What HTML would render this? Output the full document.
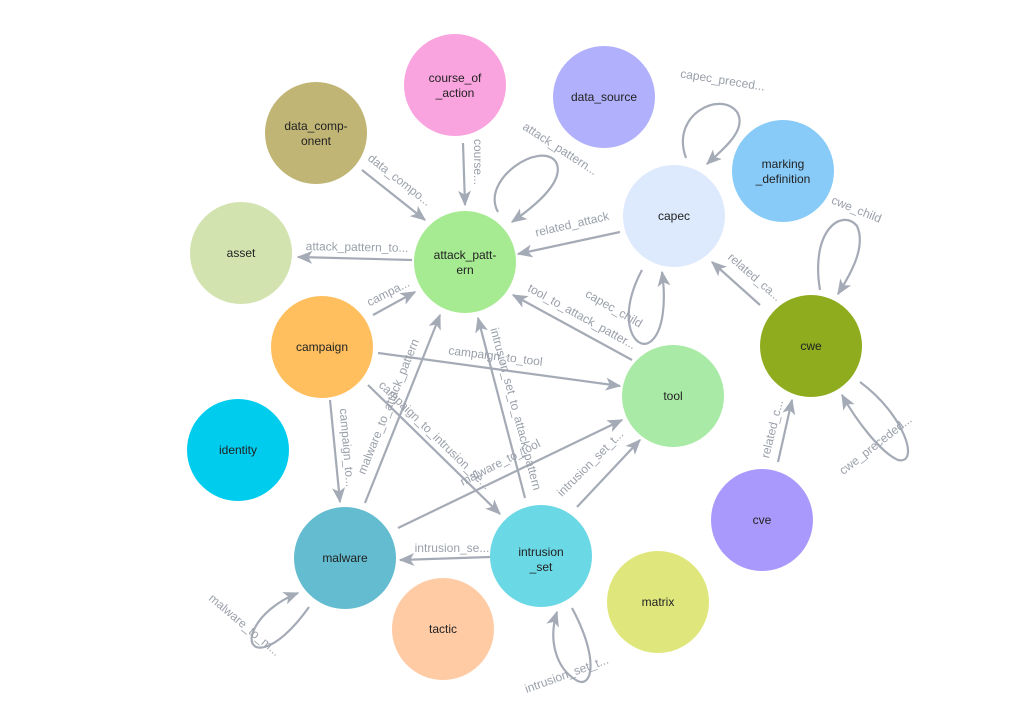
<!DOCTYPE html>
<html><head><meta charset="utf-8"><style>
html,body{margin:0;padding:0;background:#fff;}
svg{display:block;}
.n{font-family:"Liberation Sans",sans-serif;font-size:12px;fill:#222;text-anchor:middle;}
.l{font-family:"Liberation Sans",sans-serif;font-size:12px;fill:#9aa0aa;text-anchor:middle;}
.e{stroke:#a5abb6;stroke-width:2.2;fill:none;marker-end:url(#a);}
</style></head><body>
<svg width="1024" height="722" viewBox="0 0 1024 722" xmlns="http://www.w3.org/2000/svg">
<defs>
<marker id="a" viewBox="0 0 12 10" refX="11" refY="5" markerWidth="16" markerHeight="13" orient="auto" markerUnits="userSpaceOnUse"><path d="M0,0 L12,5 L0,10 L3,5 Z" fill="#a5abb6"/></marker></defs>

<!-- edges -->
<path class="e" d="M362,170 L425,220"/>
<path class="e" d="M463,143 L465,205"/>
<path class="e" d="M498,212 C480,180 540,140 556,162 C566,182 532,208 512,222"/>
<path class="e" d="M620,232 L518,254"/>
<path class="e" d="M412,260 L298,257"/>
<path class="e" d="M373,315 L415,292"/>
<path class="e" d="M632,360 L513,295"/>
<path class="e" d="M686,158 C670,115 720,90 737,112 C748,130 722,150 707,164"/>
<path class="e" d="M642,270 C615,320 635,352 650,342 C664,332 666,300 662,272"/>
<path class="e" d="M760,305 L712,262"/>
<path class="e" d="M820,290 C810,230 842,208 857,226 C866,246 852,272 838,294"/>
<path class="e" d="M860,382 C905,415 920,465 898,460 C880,452 856,420 842,395"/>
<path class="e" d="M778,462 L792,400"/>
<path class="e" d="M378,353 L620,386"/>
<path class="e" d="M330,400 L340,502"/>
<path class="e" d="M368,385 L500,514"/>
<path class="e" d="M365,503 L440,315"/>
<path class="e" d="M525,498 L478,318"/>
<path class="e" d="M398,528 L622,420"/>
<path class="e" d="M577,507 L640,440"/>
<path class="e" d="M490,557 L400,560"/>
<path class="e" d="M309,607 C275,655 248,655 252,635 C258,615 280,600 298,593"/>
<path class="e" d="M572,608 C600,660 592,690 576,680 C556,668 548,640 557,612"/>

<!-- edge labels -->
<text class="l" transform="translate(397,183) rotate(38)">data_compo...</text>
<text class="l" transform="translate(474,162) rotate(90)">course...</text>
<text class="l" transform="translate(558,152) rotate(33)">attack_pattern...</text>
<text class="l" transform="translate(573,228) rotate(-13)">related_attack</text>
<text class="l" transform="translate(357,251) rotate(1)">attack_pattern_to...</text>
<text class="l" transform="translate(390,296) rotate(-27)">campa...</text>
<text class="l" transform="translate(580,320) rotate(29)">tool_to_attack_patter...</text>
<text class="l" transform="translate(612,312) rotate(30)">capec_child</text>
<text class="l" transform="translate(722,84) rotate(9)">capec_preced...</text>
<text class="l" transform="translate(752,280) rotate(41)">related_ca...</text>
<text class="l" transform="translate(855,213) rotate(22)">cwe_child</text>
<text class="l" transform="translate(878,448) rotate(-38)">cwe_preceded...</text>
<text class="l" transform="translate(776,430) rotate(-76)">related_c...</text>
<text class="l" transform="translate(495,360) rotate(7)">campaign_to_tool</text>
<text class="l" transform="translate(343,448) rotate(85)">campaign_to...</text>
<text class="l" transform="translate(432,438) rotate(44)">campaign_to_intrusion_se...</text>
<text class="l" transform="translate(392,408) rotate(-68)">malware_to_attack_pattern</text>
<text class="l" transform="translate(512,410) rotate(75)">intrusion_set_to_attack_pattern</text>
<text class="l" transform="translate(502,466) rotate(-27)">malware_to_tool</text>
<text class="l" transform="translate(593,466) rotate(-45)">intrusion_set_t...</text>
<text class="l" transform="translate(452,552)">intrusion_se...</text>
<text class="l" transform="translate(242,628) rotate(40)">malware_to_m...</text>
<text class="l" transform="translate(568,678) rotate(-20)">intrusion_set_t...</text>

<!-- nodes -->
<g>
<circle cx="455" cy="85" r="51" fill="#f9a3df"/><text class="n" x="455" y="82">course_of</text><text class="n" x="455" y="97">_action</text>
<circle cx="604" cy="97" r="51" fill="#b0b0fc"/><text class="n" x="604" y="101">data_source</text>
<circle cx="316" cy="133" r="51" fill="#c0b575"/><text class="n" x="316" y="130">data_comp-</text><text class="n" x="316" y="145">onent</text>
<circle cx="783" cy="171" r="51" fill="#88cbf8"/><text class="n" x="783" y="168">marking</text><text class="n" x="783" y="183">_definition</text>
<circle cx="674" cy="216" r="51" fill="#dde9fc"/><text class="n" x="674" y="220">capec</text>
<circle cx="241" cy="253" r="51" fill="#d2e3b0"/><text class="n" x="241" y="257">asset</text>
<circle cx="465" cy="262" r="51" fill="#a6ea91"/><text class="n" x="465" y="259">attack_patt-</text><text class="n" x="465" y="274">ern</text>
<circle cx="322" cy="347" r="51" fill="#ffbf5f"/><text class="n" x="322" y="351">campaign</text>
<circle cx="811" cy="346" r="51" fill="#8eac1e"/><text class="n" x="811" y="350">cwe</text>
<circle cx="673" cy="396" r="51" fill="#a9eba6"/><text class="n" x="673" y="400">tool</text>
<circle cx="238" cy="450" r="51" fill="#00ccee"/><text class="n" x="238" y="454">identity</text>
<circle cx="762" cy="520" r="51" fill="#aa99fc"/><text class="n" x="762" y="524">cve</text>
<circle cx="345" cy="558" r="51" fill="#63bccf"/><text class="n" x="345" y="562">malware</text>
<circle cx="541" cy="556" r="51" fill="#6ad8e5"/><text class="n" x="541" y="556">intrusion</text><text class="n" x="541" y="571">_set</text>
<circle cx="658" cy="602" r="51" fill="#dfe77c"/><text class="n" x="658" y="606">matrix</text>
<circle cx="443" cy="629" r="51" fill="#ffcba5"/><text class="n" x="443" y="633">tactic</text>
</g>
</svg>
</body></html>
